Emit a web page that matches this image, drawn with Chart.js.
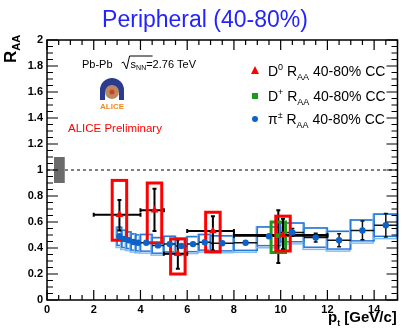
<!DOCTYPE html>
<html>
<head>
<meta charset="utf-8">
<script src="https://cdn.jsdelivr.net/npm/chart.js@4"></script>
<style>
  html, body { margin: 0; padding: 0; background: #fff; }
  #wrap { width: 402px; height: 331px; }
</style>
</head>
<body>
<div id="wrap"><canvas id="raa" width="402" height="331"></canvas></div>
<script>
// axis ticks
const xTicks = [0, 2, 4, 6, 8, 10, 12, 14];
const yTicks = [0, 0.2, 0.4, 0.6, 0.8, 1, 1.2, 1.4, 1.6, 1.8, 2];

// D0 RAA 40-80%
const d0Pt = [3.1, 4.6, 5.6, 7.1, 10.1];
const d0PtLo = [2, 4, 5, 6, 8];
const d0PtHi = [4, 5, 6, 8, 12];
const d0Raa = [0.655, 0.69, 0.355, 0.53, 0.50];
const d0StatTop = [0.77, 0.855, 0.465, 0.645, 0.625];
const d0StatBot = [0.535, 0.53, 0.24, 0.38, 0.39];
const d0SysTop = [0.92, 0.90, 0.47, 0.675, 0.645];
const d0SysBot = [0.46, 0.44, 0.20, 0.37, 0.377];

// D+ RAA 40-80%
const dpPt = [9.9];
const dpPtLo = [8];
const dpPtHi = [12];
const dpRaa = [0.495];
const dpStatTop = [0.69];
const dpStatBot = [0.285];
const dpSysTop = [0.60];
const dpSysBot = [0.365];

// charged pion RAA 40-80%
const piPtLo = [3.0, 3.2, 3.4, 3.6, 3.8, 4.0, 4.5, 5.0, 5.5, 6.0, 6.5, 7, 8, 9, 10, 11, 12, 13, 14];
const piPtHi = [3.2, 3.4, 3.6, 3.8, 4.0, 4.5, 5.0, 5.5, 6.0, 6.5, 7.0, 8, 9, 10, 11, 12, 13, 14, 15];
const piPt = [3.1, 3.3, 3.5, 3.7, 3.9, 4.25, 4.75, 5.25, 5.75, 6.25, 6.75, 7.5, 8.5, 9.5, 10.5, 11.5, 12.5, 13.5, 14.5];
const piRaa = [0.49, 0.47, 0.46, 0.446, 0.44, 0.44, 0.42, 0.43, 0.415, 0.43, 0.444, 0.436, 0.44, 0.49, 0.52, 0.48, 0.46, 0.535, 0.575];
const piStat = [0.008, 0.008, 0.008, 0.008, 0.008, 0.006, 0.008, 0.01, 0.012, 0.012, 0.014, 0.012, 0.015, 0.02, 0.03, 0.033, 0.05, 0.072, 0.09];
const piSys = [0.07, 0.066, 0.064, 0.062, 0.062, 0.064, 0.06, 0.06, 0.058, 0.058, 0.06, 0.058, 0.058, 0.072, 0.072, 0.074, 0.068, 0.08, 0.085];

// normalisation uncertainty
const normBox = { xFrom: 0.3, xTo: 0.76, yFrom: 0.9, yTo: 1.1 };

const RED = '#ff0000';
const GREEN = '#1a9a1a';
const BLUE = '#0d62c8';
const BOX_DARK = '#2a78d6';
const BOX_LIGHT = '#82bdf0';
const FONT = '"Liberation Sans", Arial, Helvetica, sans-serif';

function pts(xs, ys) {
  return xs.map((x, i) => ({ x: x, y: ys[i] }));
}

// draws text runs with sup/sub
function richText(ctx, parts, x, y, color) {
  ctx.fillStyle = color;
  ctx.textAlign = 'left';
  ctx.textBaseline = 'alphabetic';
  let cx = x;
  parts.forEach(p => {
    ctx.font = (p.bold ? 'bold ' : '') + p.size + 'px ' + FONT;
    ctx.fillText(p.t, cx, y + (p.dy || 0));
    cx += ctx.measureText(p.t).width;
  });
  return cx;
}

const rootPlot = {
  id: 'rootPlot',
  beforeDatasetsDraw(chart) {
    const ctx = chart.ctx;
    const xs = chart.scales.x, ys = chart.scales.y;
    const X = v => xs.getPixelForValue(v);
    const Y = v => ys.getPixelForValue(v);
    ctx.save();

    // dashed line at 1
    ctx.strokeStyle = '#000';
    ctx.lineWidth = 1;
    ctx.setLineDash([3, 3]);
    ctx.beginPath();
    ctx.moveTo(X(0), Y(1));
    ctx.lineTo(X(15), Y(1));
    ctx.stroke();
    ctx.setLineDash([]);

    // normalisation box
    ctx.fillStyle = '#6b6b6b';
    ctx.fillRect(X(normBox.xFrom), Y(normBox.yTo), X(normBox.xTo) - X(normBox.xFrom), Y(normBox.yFrom) - Y(normBox.yTo));

    // pion systematic boxes
    piPt.forEach((p, i) => {
      const l = X(piPtLo[i]), r = X(piPtHi[i]);
      ctx.lineWidth = 1.5;
      ctx.strokeStyle = BOX_LIGHT;
      const s2 = piSys[i] * 1.12;
      ctx.strokeRect(l - 1, Y(piRaa[i] + s2) + 1, r - l, Y(piRaa[i] - s2) - Y(piRaa[i] + s2));
      ctx.strokeStyle = BOX_DARK;
      ctx.strokeRect(l, Y(piRaa[i] + piSys[i]), r - l, Y(piRaa[i] - piSys[i]) - Y(piRaa[i] + piSys[i]));
    });

    // pion error bars
    ctx.strokeStyle = '#111';
    ctx.lineWidth = 1.5;
    piPt.forEach((p, i) => {
      const x = X(p), y = Y(piRaa[i]);
      ctx.beginPath();
      ctx.moveTo(X(piPtLo[i]), y);
      ctx.lineTo(X(piPtHi[i]), y);
      const t = Y(piRaa[i] + piStat[i]), b = Y(piRaa[i] - piStat[i]);
      ctx.moveTo(x, t);
      ctx.lineTo(x, b);
      if (b - t > 6) {
        ctx.moveTo(x - 2, t); ctx.lineTo(x + 2, t);
        ctx.moveTo(x - 2, b); ctx.lineTo(x + 2, b);
      }
      ctx.stroke();
    });

    // D meson error bars and boxes
    const drawD = (pt, lo, hi, raa, st, sb, syT, syB, col) => {
      pt.forEach((p, i) => {
        const x = X(p), y = Y(raa[i]);
        ctx.strokeStyle = '#000';
        ctx.lineWidth = 2;
        ctx.beginPath();
        ctx.moveTo(X(lo[i]), y); ctx.lineTo(X(hi[i]), y);
        ctx.moveTo(X(lo[i]), y - 2); ctx.lineTo(X(lo[i]), y + 2);
        ctx.moveTo(X(hi[i]), y - 2); ctx.lineTo(X(hi[i]), y + 2);
        ctx.moveTo(x, Y(st[i])); ctx.lineTo(x, Y(sb[i]));
        ctx.moveTo(x - 2, Y(st[i])); ctx.lineTo(x + 2, Y(st[i]));
        ctx.moveTo(x - 2, Y(sb[i])); ctx.lineTo(x + 2, Y(sb[i]));
        ctx.stroke();
        ctx.strokeStyle = col;
        ctx.lineWidth = 3;
        const l = X(p - 0.31), r = X(p + 0.31);
        ctx.strokeRect(l, Y(syT[i]), r - l, Y(syB[i]) - Y(syT[i]));
      });
    };
    drawD(dpPt, dpPtLo, dpPtHi, dpRaa, dpStatTop, dpStatBot, dpSysTop, dpSysBot, GREEN);
    drawD(d0Pt, d0PtLo, d0PtHi, d0Raa, d0StatTop, d0StatBot, d0SysTop, d0SysBot, RED);
    ctx.restore();
  },
  afterDraw(chart) {
    const ctx = chart.ctx;
    const a = chart.chartArea;
    const xs = chart.scales.x, ys = chart.scales.y;
    ctx.save();

    // frame
    ctx.strokeStyle = '#000';
    ctx.lineWidth = 1.5;
    ctx.strokeRect(a.left, a.top, a.right - a.left, a.bottom - a.top);

    // inward ticks on all four sides
    ctx.lineWidth = 1.2;
    ctx.beginPath();
    for (let v = 0; v <= 15.001; v += 0.5) {
      const major = Math.abs(v / 2 - Math.round(v / 2)) < 1e-6;
      const len = major ? 10 : 5;
      const x = xs.getPixelForValue(v);
      ctx.moveTo(x, a.bottom); ctx.lineTo(x, a.bottom - len);
      ctx.moveTo(x, a.top); ctx.lineTo(x, a.top + len);
    }
    for (let k = 0; k <= 40; k++) {
      const v = k * 0.05;
      const len = k % 4 === 0 ? 11 : 6;
      const y = ys.getPixelForValue(v);
      ctx.moveTo(a.left, y); ctx.lineTo(a.left + len, y);
      ctx.moveTo(a.right, y); ctx.lineTo(a.right - len, y);
    }
    ctx.stroke();

    // title
    ctx.fillStyle = '#2323ff';
    ctx.font = '23px ' + FONT;
    ctx.textAlign = 'center';
    ctx.fillText('Peripheral (40-80%)', 205, 27);

    // y axis title
    ctx.save();
    ctx.translate(16, 63);
    ctx.rotate(-Math.PI / 2);
    richText(ctx, [{ t: 'R', size: 17, bold: true }, { t: 'AA', size: 11, bold: true, dy: 4 }], 0, 0, '#000');
    ctx.restore();

    // x axis title
    richText(ctx, [{ t: 'p', size: 15, bold: true }, { t: 't', size: 9, bold: true, dy: 4 },
      { t: ' [GeV/c]', size: 15, bold: true }], 328, 322, '#000');

    // collision system
    let cx = richText(ctx, [{ t: 'Pb-Pb', size: 11 }], 82, 68, '#000');
    cx += 9;
    ctx.strokeStyle = '#000';
    ctx.lineWidth = 1;
    ctx.beginPath();
    ctx.moveTo(cx, 63); ctx.lineTo(cx + 2, 62); ctx.lineTo(cx + 5, 69); ctx.lineTo(cx + 8, 56); ctx.lineTo(cx + 31, 56);
    ctx.stroke();
    richText(ctx, [{ t: 's', size: 11 }, { t: 'NN', size: 7, dy: 2 }, { t: '=2.76 TeV', size: 11 }], cx + 9, 68, '#000');

    // ALICE logo (rough)
    ctx.fillStyle = '#2b3c8f';
    ctx.beginPath();
    ctx.moveTo(100, 100); ctx.lineTo(100, 90); ctx.arc(112, 90, 12, Math.PI, 0); ctx.lineTo(124, 100);
    ctx.lineTo(119, 100); ctx.lineTo(119, 92); ctx.lineTo(105, 92); ctx.lineTo(105, 100); ctx.closePath();
    ctx.fill();
    ctx.fillStyle = '#b98a60';
    ctx.beginPath(); ctx.arc(112, 92, 7, 0, Math.PI * 2); ctx.fill();
    ctx.fillStyle = '#d04020';
    ctx.beginPath(); ctx.arc(112, 92, 2.5, 0, Math.PI * 2); ctx.fill();
    ctx.fillStyle = '#f08a1c';
    ctx.font = 'bold 8px ' + FONT;
    ctx.textAlign = 'center';
    ctx.fillText('ALICE', 112, 109);

    // preliminary label
    richText(ctx, [{ t: 'ALICE Preliminary', size: 11.5 }], 68, 132, '#ff0000');

    // legend
    const lx = 255;
    ctx.fillStyle = RED;
    ctx.beginPath(); ctx.moveTo(lx, 66); ctx.lineTo(lx + 4, 74); ctx.lineTo(lx - 4, 74); ctx.closePath(); ctx.fill();
    richText(ctx, [{ t: 'D', size: 14 }, { t: '0', size: 9, dy: -6 }, { t: ' R', size: 14 }, { t: 'AA', size: 9, dy: 4 },
      { t: ' 40-80% CC', size: 14 }], 268, 76, '#000');
    ctx.fillStyle = GREEN;
    ctx.fillRect(lx - 3, 93, 6, 6);
    richText(ctx, [{ t: 'D', size: 14 }, { t: '+', size: 9, dy: -6 }, { t: ' R', size: 14 }, { t: 'AA', size: 9, dy: 4 },
      { t: ' 40-80% CC', size: 14 }], 268, 101, '#000');
    ctx.fillStyle = BLUE;
    ctx.beginPath(); ctx.arc(lx, 119, 3, 0, Math.PI * 2); ctx.fill();
    richText(ctx, [{ t: 'π', size: 14 }, { t: '±', size: 9, dy: -6 }, { t: ' R', size: 14 }, { t: 'AA', size: 9, dy: 4 },
      { t: ' 40-80% CC', size: 14 }], 268, 124, '#000');

    ctx.restore();
  }
};

const ctx = document.getElementById('raa').getContext('2d');
const raaChart = new Chart(ctx, {
  type: 'scatter',
  data: {
    datasets: [
      { label: 'D0', data: pts(d0Pt, d0Raa), pointStyle: 'triangle', pointRadius: 4.5,
        backgroundColor: RED, borderColor: RED, borderWidth: 0 },
      { label: 'D+', data: pts(dpPt, dpRaa), pointStyle: 'rect', pointRadius: 3.5,
        backgroundColor: GREEN, borderColor: GREEN, borderWidth: 0 },
      { label: 'pi', data: pts(piPt, piRaa), pointStyle: 'circle', pointRadius: 3.2,
        backgroundColor: BLUE, borderColor: BLUE, borderWidth: 0 }
    ]
  },
  options: {
    responsive: false,
    animation: false,
    devicePixelRatio: 1,
    layout: { padding: { top: 40, right: 1, left: 0, bottom: 0 } },
    plugins: { legend: { display: false }, tooltip: { enabled: false } },
    scales: {
      x: {
        type: 'linear', min: 0, max: 15,
        afterBuildTicks: s => { s.ticks = xTicks.map(v => ({ value: v })); },
        afterFit: s => { s.height = 31; },
        grid: { display: false, drawTicks: false },
        border: { display: false },
        ticks: { color: '#000', padding: 3, maxRotation: 0, autoSkip: false,
          font: { family: FONT, size: 11, weight: 'bold' },
          callback: v => String(v) }
      },
      y: {
        type: 'linear', min: 0, max: 2,
        afterBuildTicks: s => { s.ticks = yTicks.map(v => ({ value: v })); },
        afterFit: s => { s.width = 47; },
        grid: { display: false, drawTicks: false },
        border: { display: false },
        ticks: { color: '#000', padding: 4, autoSkip: false,
          font: { family: FONT, size: 11, weight: 'bold' },
          callback: v => String(+v.toFixed(1)) }
      }
    }
  },
  plugins: [rootPlot]
});
</script>
</body>
</html>
